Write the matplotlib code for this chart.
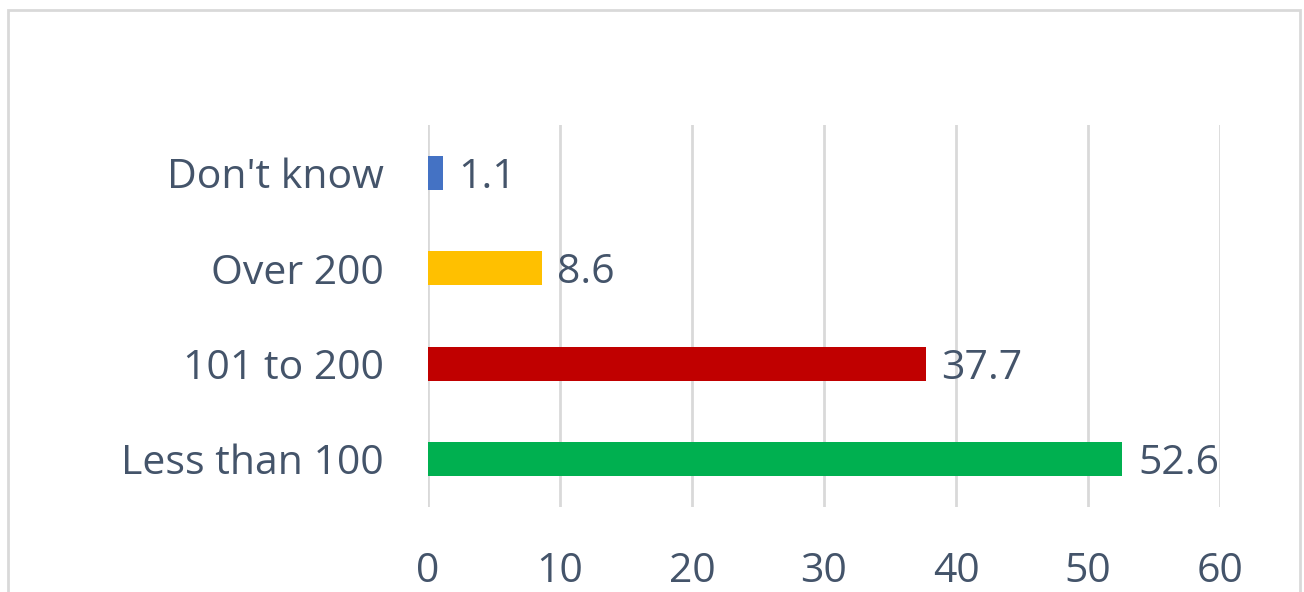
import matplotlib
matplotlib.use("Agg")
import matplotlib.pyplot as plt
from matplotlib.patches import Rectangle

# data
categories = ["Less than 100", "101 to 200", "Over 200", "Don't know"]
values = [52.6, 37.7, 8.6, 1.1]
colors = ["#00B050", "#C00000", "#FFC000", "#4472C4"]
xticks = [0, 10, 20, 30, 40, 50, 60]

text_color = "#44546A"
fsize = 29.5
plt.rcParams['font.family'] = ['Open Sans', 'DejaVu Sans']

fig = plt.figure(figsize=(13.04, 5.92), dpi=100)
ax = fig.add_axes([428/1304, 1-507/592, (1220-428)/1304, (507-125)/592])

ypos = list(range(len(categories)))
ax.barh(ypos, values, height=0.355, color=colors, zorder=3)

# value labels to the right of each bar
for y, v in zip(ypos, values):
    ax.text(v + 1.2, y - 0.05, f"{v}", va='center', ha='left',
            fontsize=fsize, color=text_color)

ax.set_xlim(0, 60)
ax.set_ylim(-0.5, 3.5)
ax.set_xticks(xticks)
ax.set_xticklabels([str(t) for t in xticks])
ax.set_yticks(ypos)
ax.set_yticklabels(categories)
ax.tick_params(axis='x', length=0, pad=32, labelsize=fsize, labelcolor=text_color)
ax.tick_params(axis='y', length=0, pad=32, labelsize=fsize, labelcolor=text_color)

ax.grid(axis='x', color='#D9D9D9', linewidth=2, zorder=0)
for s in ax.spines.values():
    s.set_visible(False)

# light border round the chart area (bottom edge is cut off)
fig.patches.append(Rectangle((8/1304, -0.1), (1300-8)/1304, 1.1 - 10/592,
                             transform=fig.transFigure, fill=False,
                             edgecolor='#D9D9D9', linewidth=2))

fig.savefig("out.png", dpi=100)
